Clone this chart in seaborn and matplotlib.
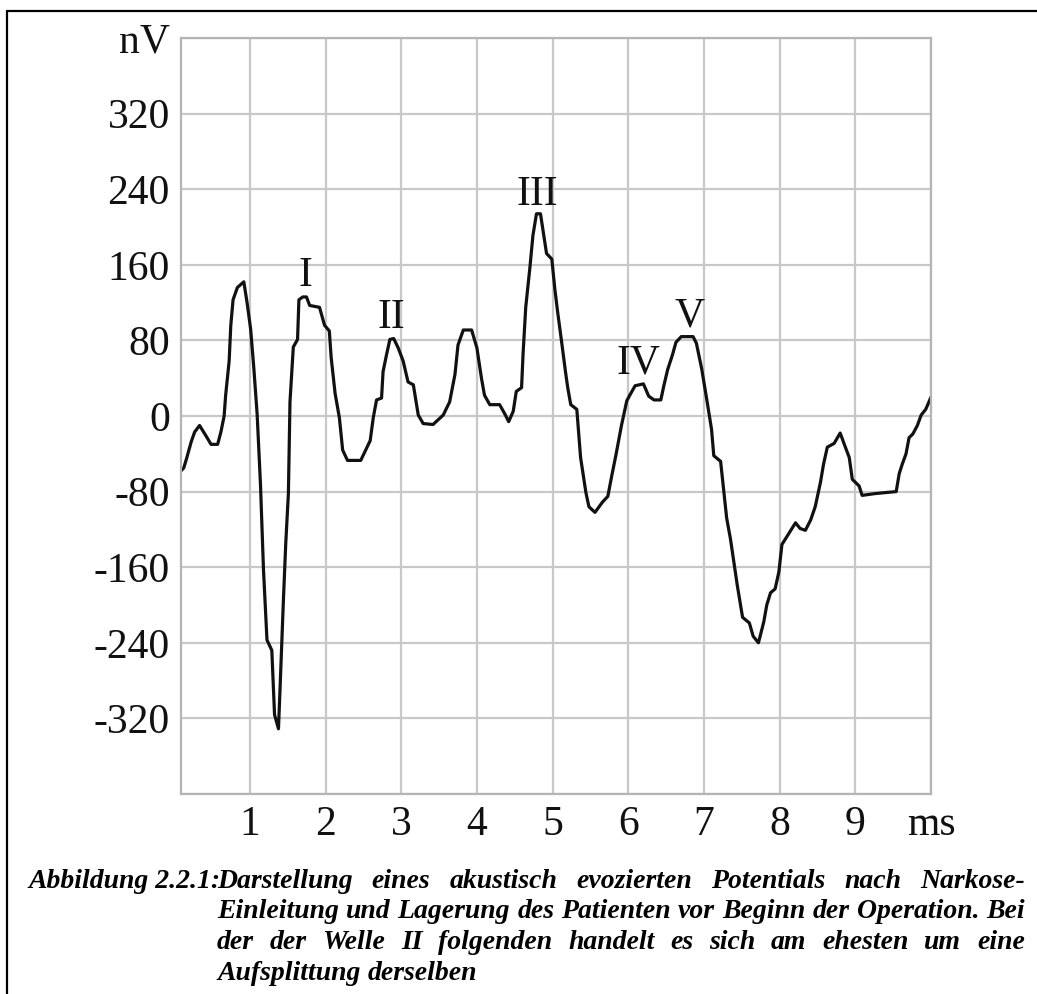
import matplotlib
matplotlib.use("Agg")
import matplotlib.pyplot as plt
import seaborn as sns
import pandas as pd
from matplotlib.lines import Line2D

# values (time in ms, amplitude in nV)
t_ms = [0.09, 0.126, 0.16, 0.226, 0.27, 0.335, 0.42, 0.487, 0.574, 0.617,
        0.66, 0.68, 0.726, 0.748, 0.778, 0.835, 0.92, 0.965, 1.01, 1.052,
        1.096, 1.14, 1.18, 1.226, 1.29, 1.326, 1.378, 1.40, 1.443, 1.474,
        1.509, 1.53, 1.574, 1.63, 1.648, 1.70, 1.748, 1.79, 1.92, 1.987,
        2.05, 2.074, 2.126, 2.183, 2.226, 2.29, 2.465, 2.53, 2.59, 2.63,
        2.674, 2.74, 2.76, 2.806, 2.85, 2.90, 2.96, 3.026, 3.09, 3.16,
        3.225, 3.29, 3.42, 3.555, 3.64, 3.71, 3.75, 3.82, 3.93, 4.0,
        4.06, 4.1, 4.17, 4.3, 4.37, 4.42, 4.48, 4.52, 4.59, 4.61,
        4.645, 4.70, 4.74, 4.787, 4.84, 4.876, 4.92, 4.99, 5.03, 5.07,
        5.12, 5.17, 5.2, 5.24, 5.32, 5.37, 5.44, 5.48, 5.56, 5.66,
        5.73, 5.775, 5.84, 5.91, 5.98, 6.02, 6.09, 6.2, 6.27, 6.34,
        6.43, 6.47, 6.52, 6.585, 6.63, 6.7, 6.856, 6.9, 6.97, 7.04,
        7.1, 7.13, 7.22, 7.26, 7.3, 7.35, 7.4, 7.44, 7.51, 7.6,
        7.65, 7.72, 7.79, 7.83, 7.88, 7.94, 7.99, 8.03, 8.1, 8.21,
        8.27, 8.34, 8.41, 8.47, 8.54, 8.58, 8.63, 8.72, 8.8, 8.85,
        8.92, 8.96, 9.05, 9.09, 9.27, 9.54, 9.58, 9.62, 9.67, 9.71,
        9.76, 9.82, 9.87, 9.93, 10.0]
potential_nv = [-58, -55, -46, -27, -17, -10, -21, -30, -30, -17,
                0, 22, 58, 96, 123, 136, 142, 119, 92, 51,
                2, -72, -163, -237, -248, -316, -331, -286, -195, -135,
                -82, 15, 73, 81, 123, 126, 126, 117, 115, 96,
                90, 62, 24, -2, -36, -47, -47, -36, -26, -2,
                17, 19, 47, 65, 81, 82, 72, 58, 36, 33,
                1, -8, -9, 1, 15, 44, 75, 91, 91, 72,
                40, 22, 12, 12, 2, -6, 5, 26, 30, 66,
                115, 157, 191, 214, 214, 195, 172, 166, 134, 108,
                78, 47, 30, 12, 7, -44, -81, -96, -102, -91,
                -85, -66, -40, -10, 16, 22, 32, 34, 21, 17,
                17, 32, 49, 65, 78, 84, 84, 77, 50, 16,
                -14, -42, -48, -78, -108, -130, -157, -179, -213, -219,
                -233, -240, -218, -200, -187, -183, -165, -136, -127, -113,
                -119, -121, -110, -96, -70, -51, -33, -29, -18, -29,
                -44, -67, -74, -84, -82, -80, -61, -51, -40, -23,
                -19, -10, 1, 7, 20]

x_ticks = [1, 2, 3, 4, 5, 6, 7, 8, 9, 10]
x_labels = ['1', '2', '3', '4', '5', '6', '7', '8', '9', 'ms']
y_ticks = [-400, -320, -240, -160, -80, 0, 80, 160, 240, 320, 400]
y_labels = ['', '-320', '-240', '-160', '-80', '0', '80', '160', '240', '320', 'nV']

wave_names = ['I', 'II', 'III', 'IV', 'V']
wave_x = [1.73, 2.87, 4.80, 6.14, 6.81]
wave_y = [138, 93, 223, 45, 95]

caption_label = 'Abbildung 2.2.1:'
caption_lines = ['Darstellung eines akustisch evozierten Potentials nach Narkose-',
                 'Einleitung und Lagerung des Patienten vor Beginn der Operation. Bei',
                 'der der Welle II folgenden handelt es sich am ehesten um eine',
                 'Aufsplittung derselben']

sns.set_style("white")
plt.rcParams['font.family'] = ['Liberation Serif', 'DejaVu Serif']

W, H = 1037, 994
fig = plt.figure(figsize=(W / 100, H / 100), dpi=100)
ax = fig.add_axes([181 / W, 200 / H, 750 / W, 756 / H])

data = pd.DataFrame({'ms': t_ms, 'nV': potential_nv})
sns.lineplot(data=data, x='ms', y='nV', ax=ax, color='#111111',
             linewidth=2.3, estimator=None, sort=False)

ax.set_xlim(0.09, 10.0)
ax.set_ylim(-400, 400)
ax.set_xticks(x_ticks)
ax.set_xticklabels(x_labels)
ax.set_yticks(y_ticks)
ax.set_yticklabels(y_labels)
ax.set_xlabel('')
ax.set_ylabel('')
ax.set_axisbelow(True)
ax.grid(True, color='#c8c8c8', linewidth=1.6)
ax.tick_params(length=0, pad=8, labelsize=30, labelcolor='#111111')
for s in ax.spines.values():
    s.set_color('#b4b4b4')
    s.set_linewidth(1.6)

for name, x, y in zip(wave_names, wave_x, wave_y):
    ax.text(x, y, name, ha='center', va='baseline', fontsize=30, color='#111111')

# outer frame of the page (top and left only)
fig.add_artist(Line2D([7 / W, 1], [1 - 11 / H, 1 - 11 / H], transform=fig.transFigure,
                      color='black', linewidth=1.6))
fig.add_artist(Line2D([7 / W, 7 / W], [1 - 11 / H, 0], transform=fig.transFigure,
                      color='black', linewidth=1.6))

# caption, justified by hand
cap_style = dict(fontsize=20, fontweight='bold', fontstyle='italic', color='black')
fig.text(28 / W, 1 - 888 / H, caption_label, va='baseline', ha='left', **cap_style)

renderer = fig.canvas.get_renderer()


def word_width(w):
    t = fig.text(0, 0, w, **cap_style)
    wd = t.get_window_extent(renderer).width
    t.remove()
    return wd


left_px, right_px = 217, 1025
baseline = 888
for i, line in enumerate(caption_lines):
    words = line.split(' ')
    widths = [word_width(w) for w in words]
    if i < len(caption_lines) - 1:
        gap = (right_px - left_px - sum(widths)) / (len(words) - 1)
    else:
        gap = word_width('a b') - word_width('a') - word_width('b')
    x = left_px
    for w, wd in zip(words, widths):
        fig.text(x / W, 1 - baseline / H, w, va='baseline', ha='left', **cap_style)
        x += wd + gap
    baseline += 30.5

fig.savefig('out.png', dpi=100)
